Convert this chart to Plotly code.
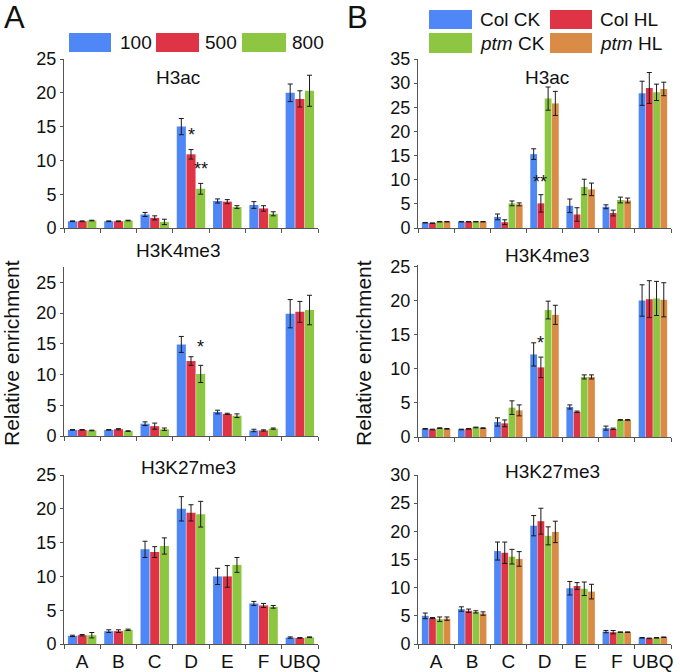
import plotly.graph_objects as go

categories = ["A", "B", "C", "D", "E", "F", "UBQ"]
series_a = ["100", "500", "800"]
series_b = ["Col CK", "Col HL", "<i>ptm</i> CK", "<i>ptm</i> HL"]
marks = ["H3ac", "H3K4me3", "H3K27me3"]

# ---- Panel A: light intensities ----
a_h3ac_100 = [1.0, 1.0, 2.0, 15.0, 4.0, 3.4, 20.0]
a_h3ac_100_err = [0.05, 0.05, 0.3, 1.2, 0.3, 0.5, 1.3]
a_h3ac_500 = [1.0, 1.0, 1.5, 10.9, 3.9, 2.9, 19.1]
a_h3ac_500_err = [0.05, 0.05, 0.3, 0.7, 0.3, 0.4, 1.2]
a_h3ac_800 = [1.1, 1.1, 0.9, 5.8, 3.1, 2.1, 20.3]
a_h3ac_800_err = [0.05, 0.05, 0.4, 0.8, 0.2, 0.3, 2.3]

a_k4_100 = [1.0, 1.0, 2.0, 14.9, 3.9, 0.9, 19.9]
a_k4_100_err = [0.05, 0.05, 0.3, 1.3, 0.3, 0.2, 2.3]
a_k4_500 = [1.0, 1.1, 1.6, 12.2, 3.6, 0.9, 20.2]
a_k4_500_err = [0.05, 0.1, 0.5, 0.7, 0.1, 0.1, 1.7]
a_k4_800 = [0.9, 0.8, 1.1, 10.1, 3.3, 1.2, 20.5]
a_k4_800_err = [0.05, 0.05, 0.2, 1.4, 0.3, 0.1, 2.4]

a_k27_100 = [1.2, 1.9, 14.0, 20.0, 10.0, 6.0, 0.95]
a_k27_100_err = [0.1, 0.2, 1.2, 1.8, 1.2, 0.3, 0.1]
a_k27_500 = [1.3, 1.9, 13.6, 19.4, 10.0, 5.7, 0.9]
a_k27_500_err = [0.1, 0.2, 0.8, 1.2, 1.6, 0.3, 0.05]
a_k27_800 = [1.3, 2.1, 14.5, 19.2, 11.7, 5.5, 1.0]
a_k27_800_err = [0.4, 0.1, 1.2, 1.9, 1.1, 0.2, 0.05]

# ---- Panel B: genotypes x treatments ----
b_h3ac_colck = [1.1, 1.3, 2.3, 15.3, 4.6, 4.4, 27.9]
b_h3ac_colck_err = [0.05, 0.05, 0.6, 1.1, 1.4, 0.4, 2.5]
b_h3ac_colhl = [1.0, 1.3, 1.2, 5.1, 2.8, 3.1, 29.0]
b_h3ac_colhl_err = [0.05, 0.05, 0.5, 1.8, 1.4, 0.6, 3.2]
b_h3ac_ptmck = [1.3, 1.3, 5.1, 26.8, 8.5, 5.8, 28.1]
b_h3ac_ptmck_err = [0.05, 0.05, 0.5, 2.4, 1.6, 0.6, 1.7]
b_h3ac_ptmhl = [1.3, 1.3, 4.9, 25.8, 8.0, 5.7, 28.8]
b_h3ac_ptmhl_err = [0.05, 0.05, 0.3, 2.5, 1.3, 0.5, 1.4]

b_k4_colck = [1.2, 1.1, 2.2, 12.1, 4.4, 1.3, 20.0]
b_k4_colck_err = [0.05, 0.05, 0.6, 1.7, 0.3, 0.3, 2.3]
b_k4_colhl = [1.1, 1.2, 2.0, 10.2, 3.7, 1.2, 20.2]
b_k4_colhl_err = [0.05, 0.05, 0.5, 1.5, 0.1, 0.1, 2.7]
b_k4_ptmck = [1.3, 1.4, 4.3, 18.6, 8.8, 2.5, 20.3]
b_k4_ptmck_err = [0.05, 0.05, 1.0, 1.3, 0.3, 0.05, 2.5]
b_k4_ptmhl = [1.2, 1.3, 3.9, 17.9, 8.8, 2.5, 20.1]
b_k4_ptmhl_err = [0.05, 0.05, 0.8, 1.4, 0.3, 0.05, 2.5]

b_k27_colck = [5.0, 6.2, 16.5, 21.0, 9.9, 2.2, 1.1]
b_k27_colck_err = [0.5, 0.4, 1.6, 1.8, 1.2, 0.2, 0.05]
b_k27_colhl = [4.6, 5.9, 16.2, 21.8, 10.3, 2.1, 1.0]
b_k27_colhl_err = [0.1, 0.3, 1.9, 2.3, 0.6, 0.3, 0.05]
b_k27_ptmck = [4.4, 5.7, 15.5, 19.2, 9.8, 2.1, 1.1]
b_k27_ptmck_err = [0.4, 0.2, 1.3, 1.6, 1.2, 0.05, 0.05]
b_k27_ptmhl = [4.5, 5.4, 15.1, 19.9, 9.3, 2.1, 1.2]
b_k27_ptmhl_err = [0.3, 0.3, 1.3, 1.9, 1.3, 0.05, 0.05]

colors_a = ["#4F87F6", "#DE3446", "#8DC641"]
colors_b = ["#4F87F6", "#DE3446", "#8DC641", "#DA8B45"]

W, H = 680, 672
FONT = "Arial, Liberation Sans, Helvetica, sans-serif"


def px_x(x):
    return x / W


def px_y(y):
    return 1 - y / H


panels = [
    ("", [a_h3ac_100, a_h3ac_500, a_h3ac_800], [a_h3ac_100_err, a_h3ac_500_err, a_h3ac_800_err],
     series_a, colors_a, 25, 5, (64, 318), (228, 59), marks[0], (178, 77)),
    ("2", [b_h3ac_colck, b_h3ac_colhl, b_h3ac_ptmck, b_h3ac_ptmhl],
     [b_h3ac_colck_err, b_h3ac_colhl_err, b_h3ac_ptmck_err, b_h3ac_ptmhl_err],
     series_b, colors_b, 35, 5, (418, 671), (228, 59), marks[0], (547, 77)),
    ("3", [a_k4_100, a_k4_500, a_k4_800], [a_k4_100_err, a_k4_500_err, a_k4_800_err],
     series_a, colors_a, 27.5, 5, (64, 318), (436, 267), marks[1], (178, 250)),
    ("4", [b_k4_colck, b_k4_colhl, b_k4_ptmck, b_k4_ptmhl],
     [b_k4_colck_err, b_k4_colhl_err, b_k4_ptmck_err, b_k4_ptmhl_err],
     series_b, colors_b, 25.2, 5, (418, 671), (437, 265), marks[1], (547, 255)),
    ("5", [a_k27_100, a_k27_500, a_k27_800], [a_k27_100_err, a_k27_500_err, a_k27_800_err],
     series_a, colors_a, 25, 5, (64, 318), (644, 475), marks[2], (188, 467)),
    ("6", [b_k27_colck, b_k27_colhl, b_k27_ptmck, b_k27_ptmhl],
     [b_k27_colck_err, b_k27_colhl_err, b_k27_ptmck_err, b_k27_ptmhl_err],
     series_b, colors_b, 30, 5, (418, 671), (644, 475), marks[2], (552, 472)),
]

fig = go.Figure()
annotations = []
shapes = []

for i, (suf, vals, errs, names, cols, ymax, dt, xd, yd, title, tpos) in enumerate(panels):
    for v, e, n, c in zip(vals, errs, names, cols):
        fig.add_trace(go.Bar(
            x=categories, y=v, name=n, showlegend=False,
            marker=dict(color=c, line=dict(width=0)),
            error_y=dict(type="data", array=e, visible=True, color="#1a1a1a", thickness=1, width=2.5),
            xaxis="x" + suf, yaxis="y" + suf, offsetgroup=n,
        ))
    bottom = i >= 4
    fig.layout["xaxis" + suf] = dict(
        domain=[px_x(xd[0]), px_x(xd[1])], anchor="y" + suf,
        type="category", categoryorder="array", categoryarray=categories,
        range=[-0.5, 6.5], showline=True, linecolor="#555", linewidth=1,
        ticks="outside", ticklen=4, tickcolor="#555", tickson="boundaries",
        showticklabels=bottom, tickangle=0, automargin=False,
        tickfont=dict(family=FONT, size=19, color="#111"),
        showgrid=False, zeroline=False, fixedrange=True,
    )
    fig.layout["yaxis" + suf] = dict(
        domain=[px_y(yd[0]), px_y(yd[1])], anchor="x" + suf,
        range=[0, ymax], tickmode="linear", tick0=0, dtick=dt,
        showline=True, linecolor="#555", linewidth=1,
        ticks="outside", ticklen=3, tickcolor="#555", automargin=False,
        tickfont=dict(family=FONT, size=18, color="#111"),
        showgrid=False, zeroline=False, fixedrange=True,
    )
    annotations.append(dict(text=title, x=px_x(tpos[0]), y=px_y(tpos[1]), xref="paper", yref="paper",
                            showarrow=False, xanchor="center", yanchor="middle",
                            font=dict(family=FONT, size=19, color="#111")))

sig = [("", 3.0, 13.8, "*"), ("", 3.28, 8.8, "**"), ("3", 3.27, 14.5, "*"),
       ("2", 2.88, 9.6, "**"), ("4", 2.9, 13.8, "*")]
for suf, xv, yv, t in sig:
    annotations.append(dict(text=t, x=xv, y=yv, xref="x" + suf, yref="y" + suf, showarrow=False,
                            xanchor="center", yanchor="middle",
                            font=dict(family=FONT, size=18, color="#111")))

for xp in (11, 363):
    annotations.append(dict(text="Relative enrichment", x=px_x(xp), y=px_y(353), xref="paper", yref="paper",
                            textangle=-90, showarrow=False, xanchor="center", yanchor="middle",
                            font=dict(family=FONT, size=21, color="#111")))

for t, xp in (("A", 14), ("B", 357)):
    annotations.append(dict(text=t, x=px_x(xp), y=px_y(17), xref="paper", yref="paper", showarrow=False,
                            xanchor="center", yanchor="middle",
                            font=dict(family=FONT, size=31, color="#111")))

leg_a = [(69, 33, 111, 52, 118), (156, 33, 199, 52, 203), (242, 33, 286, 52, 290)]
for (x0, y0, x1, y1, tx), n, c in zip(leg_a, series_a, colors_a):
    shapes.append(dict(type="rect", xref="paper", yref="paper", x0=px_x(x0), x1=px_x(x1),
                       y0=px_y(y1), y1=px_y(y0), fillcolor=c, line=dict(width=0)))
    annotations.append(dict(text=n, x=px_x(tx), y=px_y((y0 + y1) / 2), xref="paper", yref="paper",
                            xanchor="left", yanchor="middle", showarrow=False,
                            font=dict(family=FONT, size=19, color="#111")))
leg_b = [(429, 10, 472, 29, 478), (550, 10, 592, 29, 598), (429, 33, 472, 53, 478), (550, 33, 592, 53, 598)]
for (x0, y0, x1, y1, tx), n, c in zip(leg_b, series_b, colors_b):
    shapes.append(dict(type="rect", xref="paper", yref="paper", x0=px_x(x0), x1=px_x(x1),
                       y0=px_y(y1), y1=px_y(y0), fillcolor=c, line=dict(width=0)))
    annotations.append(dict(text=n, x=px_x(tx), y=px_y((y0 + y1) / 2), xref="paper", yref="paper",
                            xanchor="left", yanchor="middle", showarrow=False,
                            font=dict(family=FONT, size=19, color="#111")))

fig.update_layout(
    width=W, height=H, margin=dict(l=0, r=0, t=0, b=0, pad=0), autosize=False,
    paper_bgcolor="white", plot_bgcolor="white",
    barmode="group", bargap=0.2, bargroupgap=0.06,
    annotations=annotations, shapes=shapes, showlegend=False,
    font=dict(family=FONT, color="#111"),
)

fig.write_html("out.html", config={"displayModeBar": False, "responsive": False},
               post_script="document.body.style.margin='0';document.body.style.overflow='hidden';")
